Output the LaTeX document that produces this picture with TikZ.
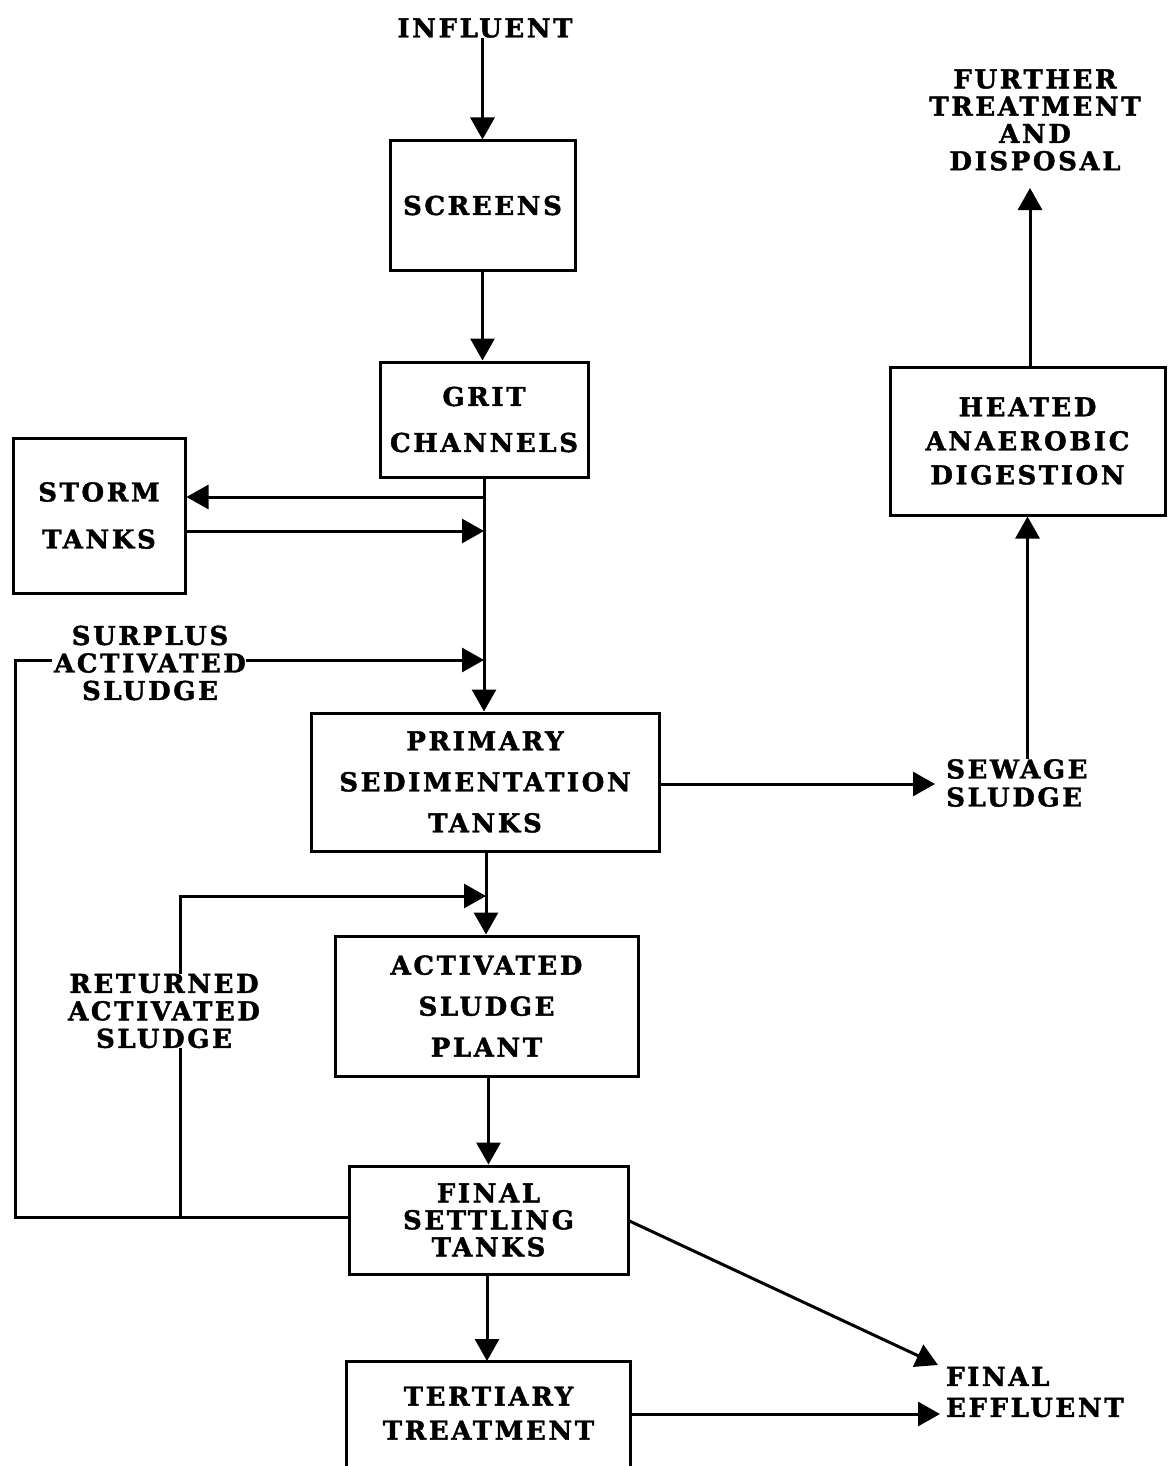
\documentclass[tikz,border=0pt]{standalone}
\usepackage{fontspec}
\newfontfamily\labfont{DejaVu Serif Bold}[LetterSpace=10, FakeBold=1.5]
\usetikzlibrary{arrows.meta}
\newcommand\fsz[1]{\labfont\fontsize{26}{#1}\selectfont}
\tikzset{
  box/.style={draw, line width=3pt, inner sep=0pt, align=center},
  lab/.style={inner sep=0pt, align=center},
  ln/.style={line width=3pt},
  arr/.style={line width=3pt, -{Triangle[length=22pt,width=24pt]}},
}
\begin{document}
\begin{tikzpicture}[x=1pt,y=-1pt]
\clip (0,0) rectangle (1169,1466);
\fill[white] (0,0) rectangle (1169,1466);

% nodes
\node[lab, font=\fsz{30}] (infl) at (485,28) {INFLUENT};
\node[box, font=\fsz{30}, minimum width=185, minimum height=129] (scr) at (482.5,205.5) {SCREENS};
\node[box, font=\fsz{46}, minimum width=208, minimum height=115] (grit) at (484,419.5) {GRIT\\CHANNELS};
\node[box, font=\fsz{47}, minimum width=172, minimum height=155] (storm) at (99,515.5) {STORM\\TANKS};
\node[lab, font=\fsz{27.5}] (surp) at (150,663) {SURPLUS\\ACTIVATED\\SLUDGE};
\node[box, font=\fsz{41}, minimum width=348, minimum height=138] (prim) at (485,782) {PRIMARY\\SEDIMENTATION\\TANKS};
\node[lab, font=\fsz{28}, align=left, anchor=west] (sew) at (946,783) {SEWAGE\\SLUDGE};
\node[box, font=\fsz{34}, minimum width=275, minimum height=148] (heat) at (1027.5,441) {HEATED\\ANAEROBIC\\DIGESTION};
\node[lab, font=\fsz{27.3}] (fur) at (1035,120) {FURTHER\\TREATMENT\\AND\\DISPOSAL};
\node[lab, font=\fsz{27.5}] (ret) at (164,1011) {RETURNED\\ACTIVATED\\SLUDGE};
\node[box, font=\fsz{41}, minimum width=303, minimum height=140] (act) at (486.5,1006) {ACTIVATED\\SLUDGE\\PLANT};
\node[box, font=\fsz{27}, minimum width=279, minimum height=108] (fin) at (488.5,1220) {FINAL\\SETTLING\\TANKS};
\node[lab, font=\fsz{34}, minimum width=283, minimum height=104, anchor=north] (ter) at (488.5,1361) {TERTIARY\\TREATMENT};
\node[lab, font=\fsz{31}, align=left, anchor=west] (eff) at (946,1392) {FINAL\\EFFLUENT};

% tertiary box (runs off the bottom)
\draw[ln] ([yshift=-40pt]ter.south west) |- (ter.north) -| ([yshift=-40pt]ter.south east);

% junction coordinates
\coordinate (jstorm1) at (484,497);
\coordinate (jstorm2) at (484,531);
\coordinate (jsurp) at (484,660);
\coordinate (jret) at (486,896);
\coordinate (sewin) at (935,784);
\coordinate (furin) at (1030,188);
\coordinate (feout) at (938,1365);
\coordinate (teout) at (940,1414);
\coordinate (fl) at (349,1217);

% main flow
\draw[arr] (infl.south -| scr.north) -- (scr.north);
\draw[arr] (scr.south) -- (scr.south |- grit.north);
\draw[arr] (grit.south) -- (grit.south |- prim.north);
\draw[arr] (jstorm1) -- (storm.east |- jstorm1);
\draw[arr] (storm.east |- jstorm2) -- (jstorm2);
\draw[arr] (surp.east |- jsurp) -- (jsurp);
\draw[arr] (prim.south -| jret) -- (jret |- act.north);
\draw[arr] (act.south -| fin.north) -- (fin.north);
\draw[arr] (fin.south -| 487,0) -- (487,1361);
\draw[arr] (prim.east |- sewin) -- (sewin);
\draw[arr] (sew.north -| heat.south) -- (heat.south);
\draw[arr] (heat.north -| furin) -- (furin);
\draw[arr] ([yshift=-1pt]fin.east) -- (feout);
\draw[arr] (ter.east |- teout) -- (teout);

% sludge return loops
\draw[ln] (fl) -- (15,1217) |- ([xshift=-2pt]surp.west |- jsurp);
\draw[ln] (180,1217) -- (ret.south -| 180,0);
\draw[arr] (ret.north -| 180,0) |- (jret);
\end{tikzpicture}
\end{document}
